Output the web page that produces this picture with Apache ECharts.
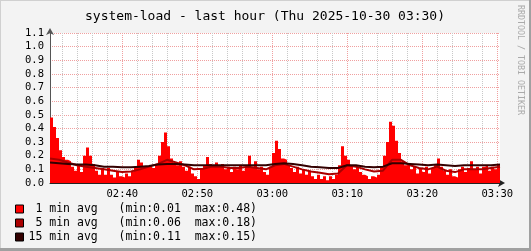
<!DOCTYPE html>
<html>
<head>
<meta charset="utf-8">
<script src="https://cdn.jsdelivr.net/npm/echarts@6/dist/echarts.min.js"></script>
<style>
html,body{margin:0;padding:0;background:#f3f3f3;}
#chart{width:531px;height:251px;}
</style>
</head>
<body>
<div id="chart"></div>
<script>
// ---------- data ----------
const chartTitle = 'system-load - last hour (Thu 2025-10-30 03:30)';
const watermark = 'RRDTOOL / TOBI OETIKER';
// x axis in minutes after 02:30
const xStartMin = 0.36;
const xEndMin = 60.36;
const xTickMinutes = [10, 20, 30, 40, 50, 60];
const xTickLabels = ['02:40', '02:50', '03:00', '03:10', '03:20', '03:30'];
const minorGridMinutes = [2, 4, 6, 8, 12, 14, 16, 18, 22, 24, 26, 28, 32, 34, 36, 38, 42, 44, 46, 48, 52, 54, 56, 58];

// 1 min avg, one sample every 0.4 min starting at xStartMin
const step1 = 0.4;
const avg1 = [
  0.48, 0.41, 0.33, 0.24, 0.19, 0.17, 0.16, 0.12, 0.09, 0.13,
  0.08, 0.20, 0.26, 0.20, 0.14, 0.09, 0.06, 0.11, 0.06, 0.11,
  0.06, 0.04, 0.08, 0.05, 0.04, 0.07, 0.05, 0.08, 0.12, 0.17,
  0.15, 0.12, 0.12, 0.13, 0.11, 0.14, 0.20, 0.30, 0.37, 0.27,
  0.18, 0.15, 0.13, 0.16, 0.12, 0.09, 0.12, 0.07, 0.05, 0.03,
  0.11, 0.13, 0.19, 0.14, 0.12, 0.15, 0.12, 0.14, 0.10, 0.12,
  0.08, 0.12, 0.10, 0.13, 0.09, 0.12, 0.20, 0.12, 0.16, 0.10,
  0.12, 0.08, 0.06, 0.12, 0.22, 0.31, 0.25, 0.18, 0.17, 0.13,
  0.11, 0.08, 0.12, 0.07, 0.10, 0.06, 0.09, 0.05, 0.03, 0.06,
  0.03, 0.05, 0.02, 0.05, 0.03, 0.06, 0.13, 0.27, 0.20, 0.17,
  0.13, 0.10, 0.12, 0.08, 0.06, 0.05, 0.03, 0.05, 0.04, 0.06,
  0.12, 0.20, 0.30, 0.45, 0.42, 0.31, 0.22, 0.16, 0.13, 0.14,
  0.10, 0.12, 0.07, 0.11, 0.08, 0.12, 0.07, 0.11, 0.13, 0.18,
  0.12, 0.09, 0.06, 0.10, 0.05, 0.04, 0.10, 0.12, 0.08, 0.11,
  0.16, 0.10, 0.12, 0.07, 0.12, 0.13, 0.09, 0.12, 0.10, 0.14
];

// 5 and 15 min avg, one sample every 1.2 min starting at xStartMin
const step5 = 1.2;
const avg5 = [
  0.18, 0.17, 0.15, 0.13, 0.12, 0.11, 0.10, 0.09, 0.08, 0.085,
  0.10, 0.12, 0.14, 0.17, 0.15, 0.13, 0.10, 0.105, 0.12, 0.12,
  0.11, 0.11, 0.12, 0.11, 0.10, 0.13, 0.14, 0.12, 0.10, 0.085,
  0.075, 0.065, 0.07, 0.13, 0.12, 0.10, 0.085, 0.09, 0.17, 0.17,
  0.13, 0.11, 0.10, 0.12, 0.09, 0.08, 0.10, 0.10, 0.10, 0.11,
  0.12
];
const avg15 = [
  0.15, 0.145, 0.14, 0.135, 0.135, 0.13, 0.12, 0.12, 0.115, 0.115,
  0.12, 0.125, 0.135, 0.14, 0.14, 0.135, 0.13, 0.13, 0.13, 0.13,
  0.13, 0.13, 0.13, 0.13, 0.13, 0.14, 0.145, 0.14, 0.13, 0.12,
  0.115, 0.11, 0.11, 0.13, 0.13, 0.12, 0.115, 0.12, 0.145, 0.145,
  0.14, 0.135, 0.13, 0.135, 0.13, 0.125, 0.13, 0.13, 0.13, 0.13,
  0.135
];

const seriesNames = ['1 min avg', '5 min avg', '15 min avg'];
const seriesColors = ['#ff0000', '#aa0000', '#330000'];
const legendMins = ['0.01', '0.06', '0.11'];
const legendMaxs = ['0.48', '0.18', '0.15'];

// ---------- build ----------
function toPairs(values, step) {
  return values.map((v, i) => [xStartMin + i * step, v]);
}
const data1 = toPairs(avg1, step1);
data1.push([xEndMin, avg1[avg1.length - 1]]);
const data5 = toPairs(avg5, step5);
const data15 = toPairs(avg15, step5);

const mono = 'DejaVu Sans Mono';
const chart = echarts.init(document.getElementById('chart'), null, {renderer: 'canvas'});

const legendText = {};
seriesNames.forEach((n, i) => {
  const label = n.padStart(10, ' ');
  legendText[n] = label + '   (min:' + legendMins[i] + '  max:' + legendMaxs[i] + ')';
});

chart.setOption({
  animation: false,
  backgroundColor: '#f3f3f3',
  title: {
    text: chartTitle,
    left: 80, top: 5,
    textStyle: {fontFamily: mono, fontSize: 13, fontWeight: 'normal', color: '#000'}
  },
  graphic: [
    {type: 'rect', shape: {x: 0, y: 0, width: 531, height: 1}, style: {fill: '#d0d0d0'}, silent: true},
    {type: 'rect', shape: {x: 0, y: 0, width: 1, height: 251}, style: {fill: '#d0d0d0'}, silent: true},
    {type: 'rect', shape: {x: 0, y: 248, width: 531, height: 3}, style: {fill: '#a0a0a0'}, silent: true},
    {type: 'rect', shape: {x: 529, y: 0, width: 2, height: 251}, style: {fill: '#a0a0a0'}, silent: true},
    {type: 'text', x: 520, y: 5, rotation: -Math.PI / 2,
     style: {text: watermark, fontFamily: mono, fontSize: 8.3, fill: '#aaaaaa', align: 'left', verticalAlign: 'middle'}}
  ],
  legend: {
    orient: 'vertical',
    left: 15, top: 202, height: 80, width: 400,
    padding: 0,
    itemWidth: 8, itemHeight: 8, itemGap: 0,
    icon: 'rect',
    itemStyle: {borderColor: '#000', borderWidth: 1},
    data: seriesNames,
    selectedMode: false,
    formatter: n => legendText[n],
    textStyle: {fontFamily: mono, fontSize: 11.5, color: '#000', lineHeight: 14, height: 14}
  },
  grid: {left: 50, right: 31, top: 33, bottom: 68, containLabel: false, show: true, backgroundColor: '#ffffff', borderWidth: 0},
  xAxis: [{
    type: 'value', min: xStartMin, max: xEndMin,
    axisLine: {show: true, lineStyle: {color: '#222', width: 1}, symbol: ['none', 'arrow'], symbolSize: [6, 7], symbolOffset: [0, 5]},
    axisTick: {show: false, customValues: minorGridMinutes},
    axisLabel: {customValues: xTickMinutes, formatter: v => xTickLabels[xTickMinutes.indexOf(Math.round(v))] || '',
      fontFamily: mono, fontSize: 10.5, color: '#000', margin: 6},
    splitLine: {show: true, lineStyle: {color: '#c8c8c8', type: [1, 1], width: 1}}
  }, {
    type: 'value', min: xStartMin, max: xEndMin, position: 'bottom',
    axisLine: {show: false}, axisTick: {show: false, customValues: xTickMinutes}, axisLabel: {show: false},
    splitLine: {show: true, lineStyle: {color: '#f0a0a0', type: [1, 1], width: 1}}
  }],
  yAxis: {
    type: 'value', min: 0, max: 1.1, interval: 0.1,
    axisLine: {show: true, lineStyle: {color: '#555', width: 1}, symbol: ['none', 'arrow'], symbolSize: [6, 7], symbolOffset: [0, 5]},
    axisTick: {show: false},
    axisLabel: {formatter: v => v.toFixed(1), fontFamily: mono, fontSize: 10.5, color: '#000', margin: 6},
    splitLine: {show: true, lineStyle: {color: '#f0a0a0', type: [1, 1], width: 1}}
  },
  series: [
    {name: seriesNames[0], type: 'line', step: 'end', data: data1, symbol: 'none',
     color: seriesColors[0], lineStyle: {width: 0, color: seriesColors[0]},
     areaStyle: {color: seriesColors[0], opacity: 1}},
    {name: seriesNames[1], type: 'line', data: data5, symbol: 'none',
     color: seriesColors[1], lineStyle: {width: 2, color: seriesColors[1]}},
    {name: seriesNames[2], type: 'line', data: data15, symbol: 'none',
     color: seriesColors[2], lineStyle: {width: 2, color: seriesColors[2]}}
  ]
});
</script>
</body>
</html>
